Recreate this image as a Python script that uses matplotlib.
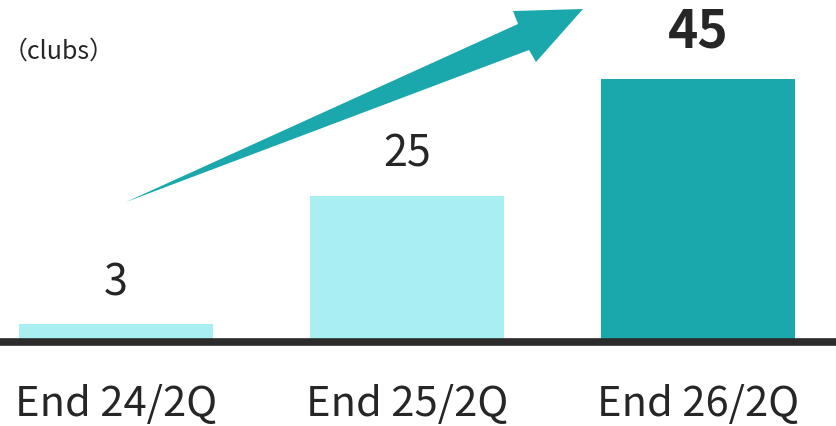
import matplotlib.pyplot as plt
from matplotlib.patches import Polygon

plt.rcParams["font.family"] = ["Noto Sans CJK JP", "DejaVu Sans"]

# Club counts by period
periods = ["End 24/2Q", "End 25/2Q", "End 26/2Q"]
clubs = [3, 25, 45]
bar_colors = ["#a9eff2", "#a9eff2", "#1ba8ad"]
unit_label = "（clubs）"

W, H = 837, 426
fig = plt.figure(figsize=(W / 100, H / 100), dpi=100)
ax = fig.add_axes([0, 84 / H, 1, 342 / H])

x = range(len(periods))
ax.bar(x, clubs, width=0.667, color=bar_colors, zorder=2)
ax.set_xlim(-0.399, 2.478)
ax.set_ylim(0, 58.5)

# thick baseline
ax.axhline(0, color="#2b2b2b", linewidth=5.5, zorder=3, clip_on=False)

for spine in ax.spines.values():
    spine.set_visible(False)
ax.set_yticks([])
ax.set_xticks(list(x))
ax.set_xticklabels(periods, fontsize=30, color="#262626")
ax.tick_params(axis="x", length=0, pad=30)

# value labels above bars, last one bold
for i, v in enumerate(clubs):
    last = i == len(clubs) - 1
    ax.annotate(str(v), (i, v), xytext=(0, 14 if not last else 15),
                textcoords="offset points", ha="center", va="bottom",
                fontsize=37 if last else 31,
                fontweight="bold" if last else "normal", color="#262626")

fig.text(3 / W, 1 - 52 / H, unit_label, fontsize=18, color="#262626",
         ha="left", va="center")

# growth arrow (figure pixel coordinates, y measured from top)
arrow_px = [(126, 202), (518, 24), (513, 11), (583, 9),
            (536, 62), (529, 50)]
arrow = Polygon([(px / W, 1 - py / H) for px, py in arrow_px],
                closed=True, facecolor="#1ba8ad", edgecolor="none",
                transform=fig.transFigure)
fig.patches.append(arrow)

fig.savefig("out.png", dpi=100)
